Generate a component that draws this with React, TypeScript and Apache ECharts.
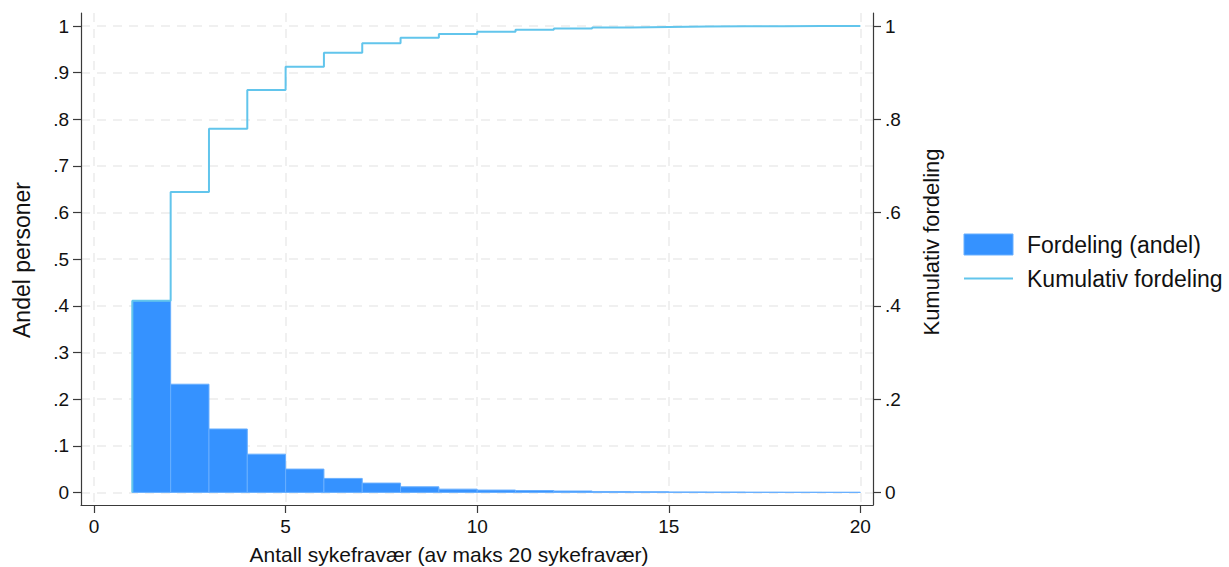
import React, { useEffect, useRef } from "react";
import * as echarts from "echarts";

const binStart = [1, 2, 3, 4, 5, 6, 7, 8, 9, 10, 11, 12, 13, 14, 15, 16, 17, 18, 19];
const binEnd = [2, 3, 4, 5, 6, 7, 8, 9, 10, 11, 12, 13, 14, 15, 16, 17, 18, 19, 20];
const shares = [0.411, 0.232, 0.136, 0.082, 0.05, 0.03, 0.02, 0.012, 0.007, 0.005, 0.004, 0.003, 0.002, 0.0015, 0.001, 0.0008, 0.0005, 0.0004, 0.0003];
const cumulative = [0.411, 0.644, 0.78, 0.863, 0.913, 0.943, 0.963, 0.975, 0.983, 0.988, 0.992, 0.995, 0.997, 0.998, 0.999, 0.9995, 0.9998, 0.9999, 1.0];

const xTicks = [0, 5, 10, 15, 20];
const leftTicks = [0, 0.1, 0.2, 0.3, 0.4, 0.5, 0.6, 0.7, 0.8, 0.9, 1];
const rightTicks = [0, 0.2, 0.4, 0.6, 0.8, 1];

const FONT = "'Liberation Sans', Arial, Helvetica, sans-serif";
const BAR_FILL = "#3592ff";
const BAR_STROKE = "#68afff";
const LINE_COLOR = "#62c5ec";
const AXIS_COLOR = "#3a3a3a";
const GRID_COLOR = "#ebebeb";

const fmt = (v: number) => {
  if (v === 0) return "0";
  if (v === 1) return "1";
  return String(Math.round(v * 10) / 10).replace(/^0/, "");
};

export default function App() {
  const ref = useRef<HTMLDivElement>(null);
  useEffect(() => {
    document.body.style.margin = "0";
    if (!ref.current) return;
    const chart = echarts.init(ref.current, undefined, { renderer: "svg" });

    const barData = binStart.map((s, i) => [s, binEnd[i], shares[i]]);
    const lineData: number[][] = [[binStart[0], 0]];
    binStart.forEach((s, i) => lineData.push([s, cumulative[i]]));
    lineData.push([binEnd[binEnd.length - 1], cumulative[cumulative.length - 1]]);

    const axisLine = { show: true, onZero: false, lineStyle: { color: AXIS_COLOR, width: 1.2 } };
    const axisTickBase = { show: true, length: 8, inside: false, lineStyle: { color: AXIS_COLOR, width: 1.2 } };
    const labelBase = { color: "#111", fontSize: 19, fontFamily: FONT };

    chart.setOption({
      animation: false,
      backgroundColor: "#ffffff",
      textStyle: { fontFamily: FONT },
      grid: { left: 81, top: 13, width: 792, height: 492, containLabel: false },
      xAxis: {
        type: "value",
        min: -0.34,
        max: 20.33,
        axisLine,
        axisTick: { ...axisTickBase, customValues: xTicks },
        axisLabel: { ...labelBase, customValues: xTicks, margin: 12 },
        splitLine: { show: true, lineStyle: { color: GRID_COLOR, width: 1.5, type: [9, 7] } },
      },
      yAxis: [
        {
          type: "value",
          position: "left",
          min: -0.027,
          max: 1.028,
          axisLine,
          axisTick: { ...axisTickBase, customValues: leftTicks },
          axisLabel: { ...labelBase, customValues: leftTicks, margin: 12, formatter: fmt },
          splitLine: { show: true, lineStyle: { color: GRID_COLOR, width: 1.5, type: [9, 7] } },
        },
        {
          type: "value",
          position: "right",
          min: -0.027,
          max: 1.028,
          axisLine,
          axisTick: { ...axisTickBase, customValues: rightTicks },
          axisLabel: { ...labelBase, customValues: rightTicks, margin: 12, formatter: fmt },
          splitLine: { show: false },
        },
      ],
      legend: {
        orient: "vertical",
        left: 963,
        top: 233,
        padding: 0,
        itemWidth: 49,
        itemHeight: 21,
        itemGap: 11,
        textStyle: { color: "#111", fontSize: 23, lineHeight: 21, fontFamily: FONT, padding: [0, 0, 0, 9] },
        data: [
          { name: "Fordeling (andel)", icon: "rect", itemStyle: { color: BAR_FILL, borderColor: BAR_STROKE, borderWidth: 1 } },
          { name: "Kumulativ fordeling", icon: "line", itemStyle: { color: LINE_COLOR, borderColor: LINE_COLOR, borderWidth: 2 } },
        ],
      },
      series: [
        {
          name: "Fordeling (andel)",
          type: "custom",
          xAxisIndex: 0,
          yAxisIndex: 0,
          encode: { x: [0, 1], y: 2 },
          data: barData,
          itemStyle: { color: BAR_FILL },
          renderItem: (params: any, api: any) => {
            const p0 = api.coord([api.value(0), api.value(2)]);
            const p1 = api.coord([api.value(1), 0]);
            return {
              type: "rect",
              shape: { x: p0[0], y: p0[1], width: p1[0] - p0[0], height: p1[1] - p0[1] },
              style: { fill: BAR_FILL, stroke: BAR_STROKE, lineWidth: 1 },
            };
          },
          z: 2,
        },
        {
          name: "Kumulativ fordeling",
          type: "line",
          xAxisIndex: 0,
          yAxisIndex: 1,
          step: "end",
          showSymbol: false,
          symbol: "none",
          data: lineData,
          lineStyle: { color: LINE_COLOR, width: 2 },
          itemStyle: { color: LINE_COLOR },
          z: 3,
        },
      ],
      graphic: [
        {
          type: "text",
          x: 449,
          y: 554,
          style: { text: "Antall sykefravær (av maks 20 sykefravær)", fontSize: 21, fontFamily: FONT, fill: "#111", textAlign: "center", textVerticalAlign: "middle" },
        },
        {
          type: "text",
          x: 22,
          y: 260,
          rotation: Math.PI / 2,
          style: { text: "Andel personer", fontSize: 23, fontFamily: FONT, fill: "#111", textAlign: "center", textVerticalAlign: "middle" },
        },
        {
          type: "text",
          x: 931,
          y: 242,
          rotation: Math.PI / 2,
          style: { text: "Kumulativ fordeling", fontSize: 22, fontFamily: FONT, fill: "#111", textAlign: "center", textVerticalAlign: "middle" },
        },
      ],
    });
    return () => chart.dispose();
  }, []);
  return <div ref={ref} style={{ width: 1229, height: 567 }} />;
}
